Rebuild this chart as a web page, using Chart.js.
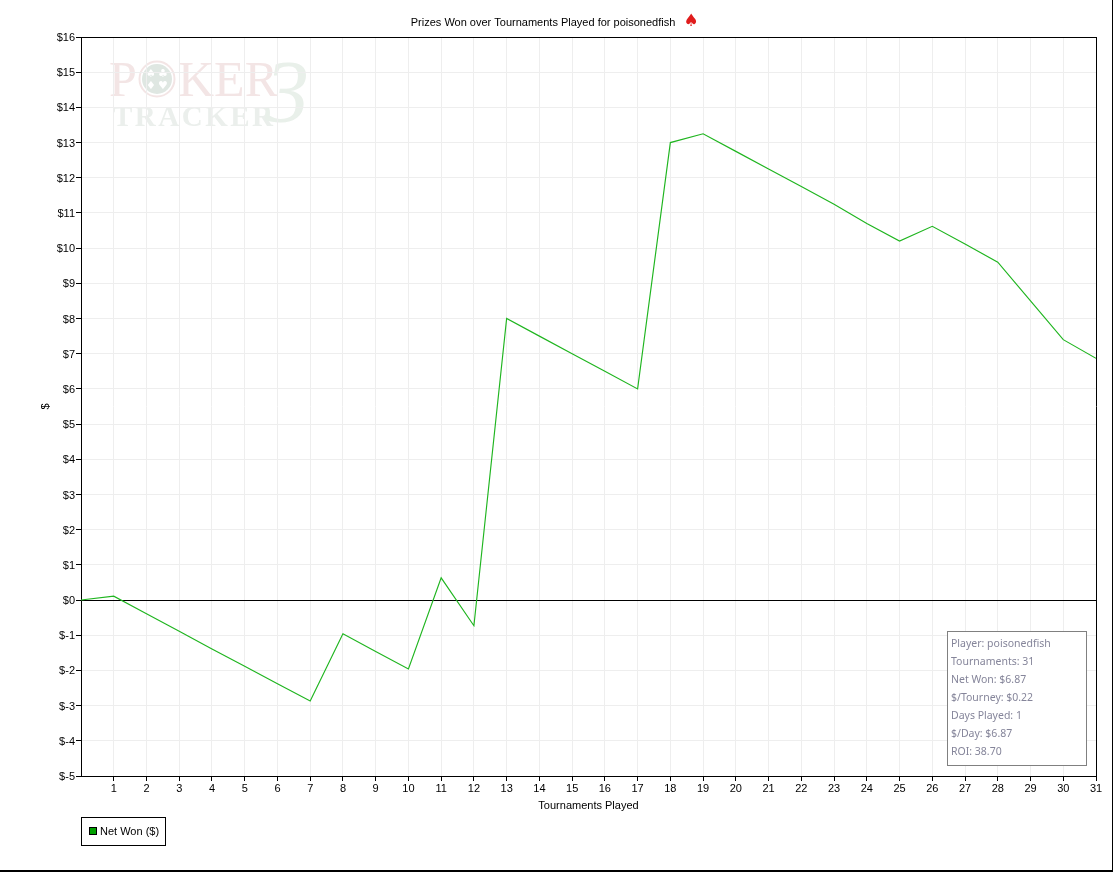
<!DOCTYPE html>
<html>
<head>
<meta charset="utf-8">
<title>Prizes Won over Tournaments Played</title>
<script src="https://cdn.jsdelivr.net/npm/chart.js@4"></script>
<style>
  html, body { margin: 0; padding: 0; background: #fff; overflow: hidden; }
  canvas { display: block; }
</style>
</head>
<body>
<canvas id="myChart" width="1113" height="872"></canvas>
<script>
// values
var tournaments = [0, 1, 2, 3, 4, 5, 6, 7, 8, 9, 10, 11, 12, 13, 14, 15, 16, 17, 18, 19, 20, 21, 22, 23, 24, 25, 26, 27, 28, 29, 30, 31];
var netWon = [0, 0.11, -0.39, -0.89, -1.39, -1.88, -2.38, -2.87, -0.96, -1.46, -1.96, 0.63, -0.73, 8, 7.5, 7, 6.5, 6, 13, 13.25, 12.75, 12.25, 11.75, 11.25, 10.7, 10.2, 10.62, 10.12, 9.6, 8.5, 7.4, 6.87];
var statLines = ["Player: poisonedfish", "Tournaments: 31", "Net Won: $6.87", "$/Tourney: $0.22", "Days Played: 1", "$/Day: $6.87", "ROI: 38.70"];

// trailing spaces leave room for the spade and move the text left of the plot centre
var chartTitle = "Prizes Won over Tournaments Played for poisonedfish                ";
var seriesName = "Net Won ($)";
var lineColor = "#1fb51f";
var fontName = "'Liberation Sans', Arial, sans-serif";

// faded logo behind the grid
var watermark = {
  id: "watermark",
  beforeDraw: function(chart) {
    var c = chart.ctx;
    c.save();
    c.textBaseline = "alphabetic";
    c.textAlign = "left";

    c.fillStyle = "#f3e5e5";
    c.font = "50px 'Liberation Serif'";
    c.fillText("P", 109, 96);
    c.fillText("KER", 178, 96);

    c.beginPath();
    c.arc(157, 79, 17.5, 0, Math.PI * 2);
    c.strokeStyle = "#f3e5e5";
    c.lineWidth = 2;
    c.stroke();
    c.beginPath();
    c.arc(157, 79, 15, 0, Math.PI * 2);
    c.fillStyle = "#dfe7e2";
    c.fill();
    c.fillStyle = "#ffffff";
    c.font = "11px 'DejaVu Sans'";
    c.textAlign = "center";
    c.fillText("\u2660", 151, 77);
    c.fillText("\u2663", 163, 77);
    c.fillText("\u2666", 151, 89);
    c.fillText("\u2665", 163, 89);

    c.textAlign = "left";
    c.fillStyle = "#ebefec";
    c.font = "bold 29px 'Liberation Serif'";
    c.letterSpacing = "2.5px";
    c.fillText("TRACKER", 113, 126);
    c.letterSpacing = "0px";

    c.fillStyle = "#e9f0ea";
    c.font = "italic 88px 'Liberation Serif'";
    c.fillText("3", 265, 121);
    c.restore();
  }
};

// stats box, legend, spade and window edge
var extras = {
  id: "extras",
  afterDraw: function(chart) {
    var c = chart.ctx;
    c.save();
    c.textBaseline = "middle";
    c.textAlign = "left";

    // spade after the title
    c.fillStyle = "#e01c1c";
    c.font = "17px 'DejaVu Sans'";
    c.textAlign = "center";
    c.fillText("\u2660", 691, 22);
    c.textAlign = "left";

    // stats box
    c.fillStyle = "#ffffff";
    c.fillRect(947.5, 631.5, 139, 134);
    c.strokeStyle = "#808080";
    c.lineWidth = 1;
    c.strokeRect(947.5, 631.5, 139, 134);
    c.fillStyle = "#85859a";
    c.font = "10.5px 'Noto Sans'";
    statLines.forEach(function(line, i) {
      c.fillText(line, 951, 644 + i * 18);
    });

    // legend
    c.strokeStyle = "#000000";
    c.strokeRect(81.5, 817.5, 84, 28);
    c.fillStyle = "#00a000";
    c.fillRect(89.5, 827.5, 7, 7);
    c.strokeRect(89.5, 827.5, 7, 7);
    c.fillStyle = "#000000";
    c.font = "11px " + fontName;
    c.fillText(chart.data.datasets[0].label, 100, 832);

    // window edge
    c.fillStyle = "#000000";
    c.fillRect(0, 870, 1113, 2);
    c.fillRect(1112, 0, 1, 872);
    c.restore();
  }
};

var ctx = document.getElementById("myChart").getContext("2d");

var chart = new Chart(ctx, {
  type: "line",
  data: {
    labels: tournaments,
    datasets: [{
      label: seriesName,
      data: tournaments.map(function(t, i) { return { x: t, y: netWon[i] }; }),
      borderColor: lineColor,
      borderWidth: 1.15,
      tension: 0,
      pointRadius: 0,
      fill: false
    }]
  },
  plugins: [watermark, extras],
  options: {
    responsive: false,
    animation: false,
    layout: { padding: { left: 39, right: 17, top: 0, bottom: 59 } },
    plugins: {
      legend: { display: false },
      tooltip: { enabled: false },
      title: {
        display: true,
        text: chartTitle,
        color: "#000",
        font: { family: fontName, size: 11, weight: "normal", lineHeight: 1 },
        padding: { top: 17, bottom: 9 }
      }
    },
    scales: {
      x: {
        type: "linear",
        min: 0,
        max: 31,
        afterFit: function(scale) { scale.height = 37; },
        afterBuildTicks: function(scale) {
          scale.ticks = tournaments.map(function(t) { return { value: t }; });
        },
        title: {
          display: true,
          text: "Tournaments Played",
          color: "#000",
          font: { family: fontName, size: 11 },
          padding: { top: 3, bottom: 0 }
        },
        border: { color: "#000", width: 1 },
        grid: {
          color: function(g) { return g.tick.value === 31 ? "#000" : "#eeeeee"; },
          tickColor: function(g) { return g.tick.value === 0 ? "rgba(0,0,0,0)" : "#000"; },
          tickLength: 5
        },
        ticks: {
          color: "#000",
          font: { family: fontName, size: 11 },
          maxRotation: 0,
          autoSkip: false,
          padding: 1,
          callback: function(v) { return v === 0 ? "" : v; }
        }
      },
      y: {
        min: -5,
        max: 16,
        afterFit: function(scale) { scale.width = 42; },
        title: {
          display: true,
          text: "$",
          color: "#000",
          font: { family: fontName, size: 11 },
          padding: 0
        },
        border: { color: "#000", width: 1 },
        grid: {
          color: function(g) { return (g.tick.value === 0 || g.tick.value === 16) ? "#000" : "#eeeeee"; },
          tickColor: "#000",
          tickLength: 5
        },
        ticks: {
          stepSize: 1,
          color: "#000",
          font: { family: fontName, size: 11 },
          padding: 1,
          labelOffset: 1,
          callback: function(v) { return "$" + v; }
        }
      }
    }
  }
});
</script>
</body>
</html>
